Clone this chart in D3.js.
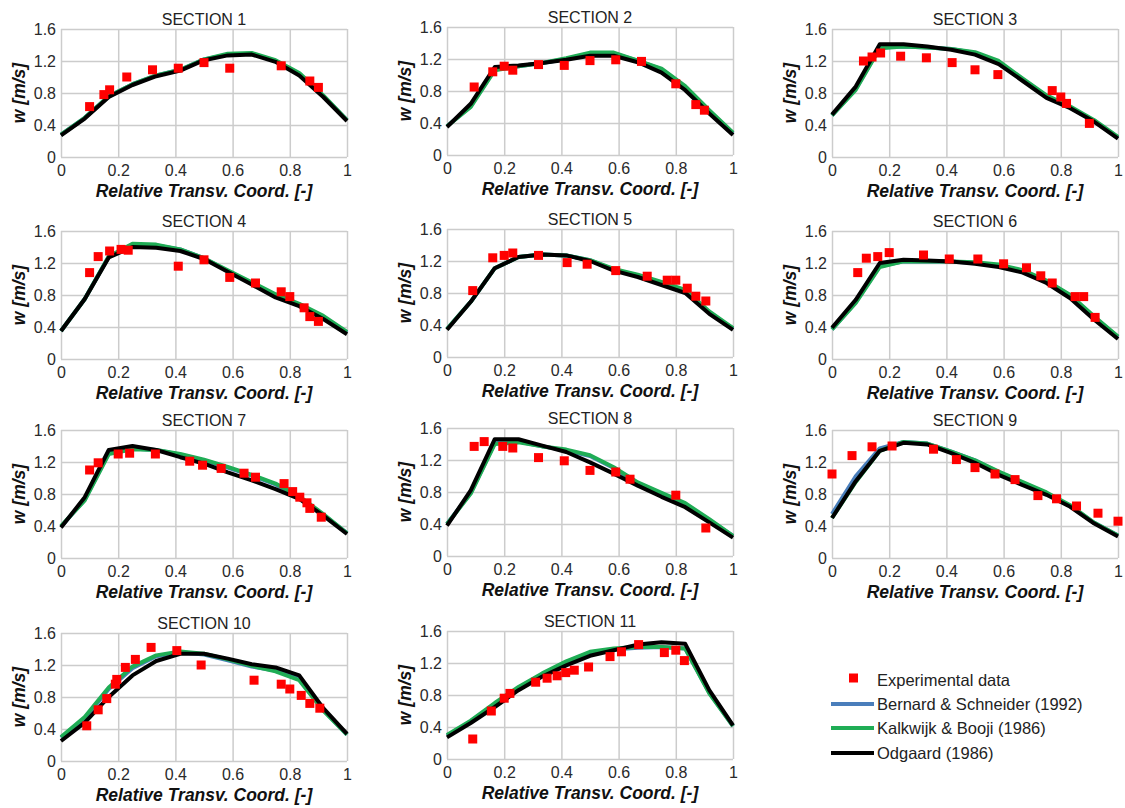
<!DOCTYPE html>
<html>
<head>
<meta charset="utf-8">
<script src="https://cdn.jsdelivr.net/npm/d3@7"></script>
<style>
	body { margin: 0; background: #fff; }
	svg { display: block; font-family: "Liberation Sans", Arial, sans-serif; }
</style>
</head>
<body>
<div id="chart"></div>
<script>
// section names
var sections = ["SECTION 1", "SECTION 2", "SECTION 3", "SECTION 4", "SECTION 5", "SECTION 6",
	"SECTION 7", "SECTION 8", "SECTION 9", "SECTION 10", "SECTION 11"];

var xTicks = [0, 0.2, 0.4, 0.6, 0.8, 1];
var xTickLabels = ["0", "0.2", "0.4", "0.6", "0.8", "1"];
var yTicks = [0, 0.4, 0.8, 1.2, 1.6];
var yTickLabels = ["0", "0.4", "0.8", "1.2", "1.6"];

// model nodes across the section
var xNodes = [0, 0.083, 0.167, 0.25, 0.333, 0.417, 0.5, 0.583, 0.667, 0.75, 0.833, 0.917, 1];

// measured points [x, w]
var experimental = [
	[[0.10,0.63],[0.15,0.78],[0.17,0.84],[0.23,1.00],[0.32,1.09],[0.41,1.11],[0.50,1.18],[0.59,1.11],[0.77,1.14],[0.87,0.95],[0.90,0.87]],
	[[0.095,0.85],[0.16,1.04],[0.20,1.11],[0.23,1.06],[0.32,1.13],[0.41,1.12],[0.50,1.18],[0.59,1.19],[0.68,1.17],[0.80,0.89],[0.87,0.63],[0.90,0.56]],
	[[0.11,1.20],[0.14,1.25],[0.17,1.30],[0.24,1.26],[0.33,1.24],[0.42,1.18],[0.50,1.09],[0.58,1.03],[0.77,0.83],[0.80,0.75],[0.82,0.67],[0.90,0.42]],
	[[0.10,1.08],[0.13,1.28],[0.17,1.35],[0.21,1.37],[0.235,1.36],[0.41,1.16],[0.50,1.24],[0.59,1.02],[0.68,0.95],[0.77,0.84],[0.80,0.78],[0.85,0.64],[0.87,0.53],[0.90,0.47]],
	[[0.09,0.83],[0.16,1.24],[0.20,1.27],[0.23,1.30],[0.32,1.27],[0.42,1.18],[0.49,1.16],[0.59,1.08],[0.70,1.01],[0.77,0.96],[0.80,0.96],[0.84,0.86],[0.87,0.76],[0.905,0.70]],
	[[0.09,1.08],[0.12,1.26],[0.16,1.28],[0.20,1.33],[0.32,1.30],[0.41,1.25],[0.51,1.25],[0.60,1.19],[0.68,1.14],[0.73,1.04],[0.77,0.95],[0.85,0.78],[0.88,0.78],[0.92,0.52]],
	[[0.10,1.10],[0.13,1.19],[0.20,1.30],[0.24,1.31],[0.33,1.30],[0.45,1.21],[0.495,1.16],[0.56,1.12],[0.64,1.06],[0.68,1.01],[0.78,0.93],[0.81,0.83],[0.835,0.76],[0.86,0.69],[0.87,0.62],[0.91,0.51]],
	[[0.095,1.37],[0.13,1.43],[0.195,1.37],[0.23,1.35],[0.32,1.23],[0.41,1.19],[0.50,1.07],[0.59,1.05],[0.64,0.96],[0.80,0.76],[0.905,0.35]],
	[[0.00,1.05],[0.07,1.28],[0.14,1.39],[0.21,1.40],[0.355,1.36],[0.435,1.23],[0.50,1.13],[0.57,1.05],[0.64,0.98],[0.72,0.78],[0.785,0.74],[0.855,0.65],[0.93,0.56],[1.00,0.46]],
	[[0.09,0.44],[0.13,0.64],[0.16,0.78],[0.19,0.96],[0.195,1.02],[0.225,1.17],[0.26,1.27],[0.315,1.42],[0.405,1.38],[0.49,1.20],[0.675,1.01],[0.77,0.96],[0.80,0.90],[0.84,0.82],[0.87,0.72],[0.905,0.66]],
	[[0.09,0.25],[0.155,0.60],[0.20,0.76],[0.22,0.82],[0.31,0.96],[0.35,1.01],[0.385,1.04],[0.415,1.08],[0.445,1.11],[0.495,1.15],[0.57,1.28],[0.61,1.34],[0.67,1.43],[0.76,1.33],[0.80,1.36],[0.83,1.23]]
];

// Bernard & Schneider (1992)
var bernard = [
	[0.28,0.49,0.76,0.91,1.02,1.09,1.22,1.28,1.29,1.20,1.04,0.76,0.46],
	[0.36,0.61,1.07,1.11,1.15,1.20,1.27,1.27,1.18,1.07,0.85,0.55,0.27],
	[0.52,0.85,1.37,1.38,1.37,1.35,1.30,1.19,0.97,0.76,0.62,0.45,0.24],
	[0.35,0.75,1.28,1.43,1.42,1.37,1.26,1.10,0.95,0.80,0.68,0.53,0.33],
	[0.35,0.69,1.11,1.25,1.28,1.27,1.21,1.09,1.02,0.93,0.83,0.56,0.35],
	[0.37,0.71,1.16,1.22,1.22,1.22,1.20,1.17,1.10,0.97,0.79,0.52,0.27],
	[0.39,0.73,1.31,1.37,1.35,1.29,1.22,1.13,1.03,0.92,0.76,0.54,0.31],
	[0.40,0.79,1.41,1.43,1.37,1.32,1.25,1.10,0.91,0.78,0.65,0.45,0.25],
	[0.55,1.02,1.37,1.45,1.43,1.33,1.22,1.07,0.94,0.81,0.65,0.44,0.28],
	[0.29,0.53,0.90,1.16,1.31,1.36,1.33,1.26,1.18,1.13,1.03,0.64,0.33],
	[0.29,0.47,0.69,0.89,1.06,1.21,1.33,1.37,1.39,1.40,1.38,0.83,0.41]
];

// Kalkwijk & Booji (1986)
var kalkwijk = [
	[0.28,0.49,0.76,0.91,1.02,1.09,1.22,1.29,1.30,1.21,1.05,0.77,0.46],
	[0.36,0.60,1.06,1.11,1.15,1.21,1.28,1.28,1.18,1.08,0.86,0.56,0.28],
	[0.52,0.84,1.36,1.38,1.37,1.35,1.31,1.20,0.98,0.77,0.63,0.46,0.25],
	[0.35,0.75,1.28,1.44,1.43,1.37,1.26,1.11,0.96,0.81,0.69,0.54,0.34],
	[0.35,0.69,1.11,1.25,1.28,1.27,1.21,1.10,1.03,0.94,0.84,0.57,0.36],
	[0.37,0.70,1.15,1.22,1.22,1.22,1.21,1.18,1.11,0.98,0.80,0.53,0.28],
	[0.40,0.72,1.30,1.36,1.35,1.30,1.23,1.14,1.04,0.93,0.77,0.55,0.31],
	[0.40,0.78,1.40,1.42,1.37,1.33,1.26,1.11,0.92,0.79,0.66,0.46,0.25],
	[0.50,0.95,1.34,1.45,1.43,1.33,1.22,1.08,0.95,0.82,0.66,0.44,0.28],
	[0.30,0.55,0.92,1.18,1.32,1.37,1.34,1.27,1.19,1.12,1.01,0.63,0.33],
	[0.30,0.48,0.70,0.90,1.07,1.22,1.34,1.38,1.40,1.40,1.38,0.82,0.41]
];

// Odgaard (1986)
var odgaard = [
	[0.27,0.48,0.75,0.90,1.01,1.08,1.21,1.27,1.28,1.19,1.02,0.75,0.45],
	[0.35,0.64,1.10,1.12,1.15,1.19,1.24,1.24,1.16,1.03,0.81,0.52,0.25],
	[0.53,0.88,1.41,1.41,1.38,1.34,1.28,1.16,0.95,0.74,0.61,0.44,0.23],
	[0.35,0.75,1.27,1.40,1.39,1.35,1.25,1.09,0.93,0.77,0.66,0.50,0.31],
	[0.34,0.69,1.11,1.25,1.28,1.27,1.20,1.08,1.00,0.90,0.80,0.54,0.34],
	[0.39,0.74,1.20,1.24,1.23,1.22,1.19,1.15,1.08,0.95,0.76,0.49,0.25],
	[0.38,0.76,1.35,1.40,1.35,1.26,1.18,1.07,0.97,0.86,0.74,0.53,0.30],
	[0.38,0.82,1.46,1.46,1.38,1.30,1.17,1.03,0.88,0.74,0.61,0.42,0.23],
	[0.50,0.96,1.34,1.44,1.42,1.31,1.19,1.04,0.91,0.79,0.64,0.43,0.27],
	[0.25,0.48,0.80,1.07,1.25,1.34,1.34,1.28,1.21,1.17,1.07,0.66,0.34],
	[0.27,0.45,0.65,0.86,1.03,1.17,1.29,1.36,1.43,1.46,1.44,0.86,0.42]
];

var legendLabels = ["Experimental data", "Bernard & Schneider (1992)", "Kalkwijk & Booji (1986)", "Odgaard (1986)"];
var modelColors = ["#4a7ebb", "#1fad55", "#000000"];

var W = 1125, H = 808;
var colLeft = [61, 447, 832], colShift = [0, -2, 0];
var rowTop = [29, 231, 430, 633];
var plotW = 286, plotH = 128;

var svg = d3.select("#chart").append("svg")
	.attr("width", W)
	.attr("height", H);

var x = d3.scaleLinear().domain([0, 1]).range([0, plotW]);
var y = d3.scaleLinear().domain([0, 1.6]).range([plotH, 0]);

var line = d3.line()
	.x(function(d, i) { return x(xNodes[i]); })
	.y(function(d) { return y(d); });

function styleAxis(a) {
	a.select(".domain").remove();
	a.selectAll("line").attr("stroke", "#cccccc").attr("stroke-width", 1.5);
	a.selectAll("text").attr("fill", "#2a2a2a")
		.style("font-size", "16px").style("font-family", "'Liberation Sans', Arial, sans-serif");
}

sections.forEach(function(name, s) {
	var col = s % 3, row = Math.floor(s / 3);
	var g = svg.append("g")
		.attr("transform", "translate(" + colLeft[col] + "," + (rowTop[row] + colShift[col]) + ")");

	// grid + y ticks
	g.append("g")
		.call(d3.axisLeft(y).tickValues(yTicks).tickSize(-plotW).tickPadding(5)
			.tickFormat(function(d, i) { return yTickLabels[i]; }))
		.call(styleAxis);

	// grid + x ticks
	g.append("g")
		.attr("transform", "translate(0," + plotH + ")")
		.call(d3.axisBottom(x).tickValues(xTicks).tickSize(-plotH).tickPadding(8)
			.tickFormat(function(d, i) { return xTickLabels[i]; }))
		.call(styleAxis);

	// model curves, blue under green under black
	[bernard, kalkwijk, odgaard].forEach(function(model, m) {
		g.append("path")
			.attr("d", line(model[s]))
			.attr("fill", "none")
			.attr("stroke", modelColors[m])
			.attr("stroke-width", 4)
			.attr("stroke-linejoin", "round");
	});

	g.selectAll(".pt")
		.data(experimental[s])
		.enter()
		.append("rect")
		.attr("class", "pt")
		.attr("x", function(d) { return x(d[0]) - 4.5; })
		.attr("y", function(d) { return y(d[1]) - 4.5; })
		.attr("width", 9)
		.attr("height", 9)
		.attr("fill", "#ff0000");

	g.append("text")
		.attr("x", plotW / 2)
		.attr("y", -4)
		.attr("text-anchor", "middle")
		.attr("font-size", 16)
		.attr("fill", "#222")
		.text(name);

	g.append("text")
		.attr("x", plotW / 2)
		.attr("y", plotH + 39.5)
		.attr("text-anchor", "middle")
		.attr("font-size", 17.5)
		.attr("font-weight", "bold")
		.attr("font-style", "italic")
		.attr("fill", "#111")
		.text("Relative Transv. Coord. [-]");

	g.append("text")
		.attr("transform", "translate(-36," + (plotH / 2) + ") rotate(-90)")
		.attr("text-anchor", "middle")
		.attr("font-size", 17.5)
		.attr("font-weight", "bold")
		.attr("font-style", "italic")
		.attr("fill", "#111")
		.text("w [m/s]");
});

// legend
var legend = svg.append("g").attr("transform", "translate(831,680)");
var legendRowY = [0, 24, 48, 73];

legend.append("rect")
	.attr("x", 18).attr("y", legendRowY[0] - 6.5)
	.attr("width", 9).attr("height", 9)
	.attr("fill", "#ff0000");

modelColors.forEach(function(c, i) {
	legend.append("line")
		.attr("x1", 0).attr("x2", 43)
		.attr("y1", legendRowY[i + 1]).attr("y2", legendRowY[i + 1])
		.attr("stroke", c)
		.attr("stroke-width", 4);
});

legend.selectAll(".lt")
	.data(legendLabels)
	.enter()
	.append("text")
	.attr("class", "lt")
	.attr("x", 46)
	.attr("y", function(d, i) { return legendRowY[i] + 6; })
	.attr("font-size", 16.5)
	.attr("fill", "#222")
	.text(function(d) { return d; });
</script>
</body>
</html>
